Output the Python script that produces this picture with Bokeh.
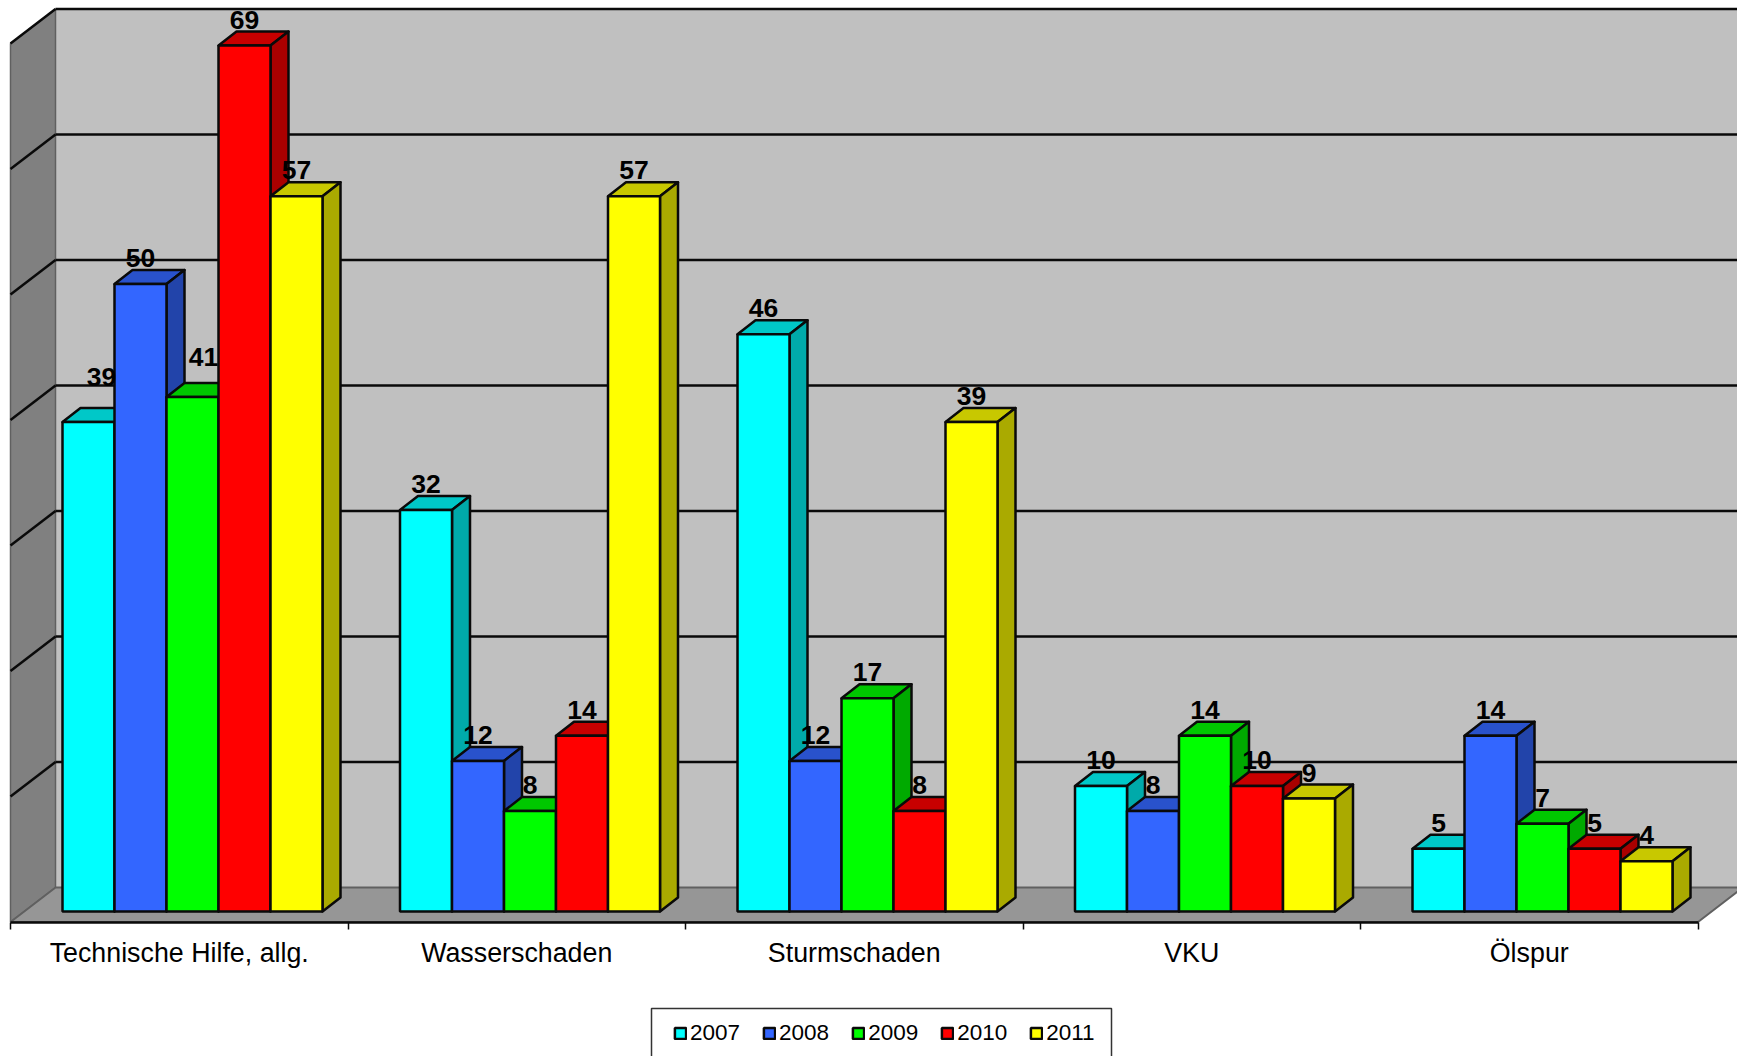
from bokeh.core.properties import value
from bokeh.embed import file_html
from bokeh.models import ColumnDataSource, FixedTicker, Legend, LegendItem, LinearAxis, Range1d
from bokeh.plotting import figure
from bokeh.resources import INLINE

categories = ["Technische Hilfe, allg.", "Wasserschaden", "Sturmschaden", "VKU", "Ölspur"]
years = ["2007", "2008", "2009", "2010", "2011"]
v2007 = [39, 32, 46, 10, 5]
v2008 = [50, 12, 12, 8, 14]
v2009 = [41, 8, 17, 14, 7]
v2010 = [69, 14, 8, 10, 5]
v2011 = [57, 57, 39, 9, 4]
series = [v2007, v2008, v2009, v2010, v2011]
front_colors = ["#00FFFF", "#3366FF", "#00FF00", "#FF0000", "#FFFF00"]
top_colors = ["#00C8C8", "#2952CC", "#00C800", "#C80000", "#C8C800"]
side_colors = ["#00AAAA", "#2244AA", "#00AA00", "#AA0000", "#AAAA00"]
grid_values = [0, 10, 20, 30, 40, 50, 60, 70]

# layout: page pixels per data unit
PX_X = 337.5
PX_Y = 12.55
X0_PX = 10.0      # x pixel of category coordinate 0
Y0_PX = 911.0     # y pixel of value 0 at the bar fronts
W, H = 1737, 1056
LINE = "#0a0a0a"


def px_x(d):
    return d / PX_X


def px_y(d):
    return d / PX_Y


p = figure(width=W, height=H, output_backend="svg", toolbar_location=None,
           x_axis_location=None, y_axis_location=None, min_border=0,
           x_range=Range1d(px_x(-X0_PX), px_x(W - X0_PX)),
           y_range=Range1d(px_y(Y0_PX - H), px_y(Y0_PX)))
p.outline_line_color = None
p.grid.visible = False
p.background_fill_color = "white"
p.border_fill_color = "white"

# box geometry
floor_front = px_y(Y0_PX - 921.5)
wall_dx = px_x(45)
wall_dy = px_y(34.5)
back0 = floor_front + wall_dy
x_end = len(categories)
top = back0 + grid_values[-1]
EDGE = "#606060"

# walls and floor
p.patch([wall_dx, x_end + wall_dx, x_end + wall_dx, wall_dx], [back0, back0, top, top],
        fill_color="#C0C0C0", line_color=None)
p.patch([0, wall_dx, wall_dx, 0], [floor_front, back0, top, floor_front + grid_values[-1]],
        fill_color="#808080", line_color=EDGE, line_width=1.5)
p.patch([0, wall_dx, x_end + wall_dx, x_end], [floor_front, back0, back0, floor_front],
        fill_color="#969696", line_color=EDGE, line_width=2)

# gridlines along back and left wall
gv = [g for g in grid_values if g > 0]
p.segment([wall_dx] * len(gv), [back0 + g for g in gv], [x_end + wall_dx] * len(gv),
          [back0 + g for g in gv], line_color=LINE, line_width=2.5)
p.segment([0] * len(gv), [floor_front + g for g in gv], [wall_dx] * len(gv),
          [back0 + g for g in gv], line_color=LINE, line_width=2.5)

# bars
bar_w = px_x(52)
group_off = px_x(52)
bar_dx = px_x(18)
bar_dy = px_y(14)
legend_items = []
label_x, label_y, label_t = [], [], []
# hand-placed labels of the source chart: (series, category) -> pixel nudge
nudges = {(0, 0): (13, -19), (2, 0): (11, -14)}
for s, vals in enumerate(series):
    lefts = [c + group_off + s * bar_w for c in range(len(vals))]
    rights = [l + bar_w for l in lefts]
    p.patches([[l, r, r + bar_dx, l + bar_dx] for l, r in zip(lefts, rights)],
              [[v, v, v + bar_dy, v + bar_dy] for v in vals],
              fill_color=top_colors[s], line_color=LINE, line_width=2.5, line_join="round")
    p.patches([[r, r + bar_dx, r + bar_dx, r] for r in rights],
              [[0, bar_dy, v + bar_dy, v] for v in vals],
              fill_color=side_colors[s], line_color=LINE, line_width=2.5, line_join="round")
    r_front = p.quad(left=lefts, right=rights, bottom=[0] * len(vals), top=vals,
                     fill_color=front_colors[s], line_color=LINE, line_width=2.5)
    legend_items.append(LegendItem(label=years[s], renderers=[r_front]))
    for c, (l, v) in enumerate(zip(lefts, vals)):
        nx, ny = nudges.get((s, c), (0, 0))
        label_x.append(l + bar_w / 2 + px_x(nx))
        label_y.append(v - px_y(ny))
        label_t.append(str(v))

p.text(x="x", y="y", text="t", source=ColumnDataSource(dict(x=label_x, y=label_y, t=label_t)),
       text_font=value("Liberation Sans"), text_font_style="bold", text_font_size="26.5px",
       text_color="#000000", text_align="center", text_baseline="middle", y_offset=-26)

# axis with tick marks at category boundaries
tick_axis = LinearAxis(ticker=FixedTicker(ticks=list(range(len(categories) + 1))),
                       bounds=(0, len(categories)),
                       fixed_location=floor_front, axis_line_color=LINE, axis_line_width=2.5,
                       major_tick_line_color=LINE, major_tick_line_width=1.5,
                       major_tick_in=0, major_tick_out=7, minor_tick_line_color=None,
                       major_label_text_color=None, major_label_text_font_size="1px")
p.add_layout(tick_axis, "below")

# axis carrying the category labels centred between the ticks
centres = [c + 0.5 for c in range(len(categories))]
label_axis = LinearAxis(ticker=FixedTicker(ticks=centres),
                        major_label_overrides=dict(zip(centres, categories)),
                        fixed_location=floor_front, axis_line_color=None,
                        major_tick_line_color=None, minor_tick_line_color=None,
                        major_tick_in=0, major_tick_out=0, major_label_standoff=16,
                        major_label_text_font="Liberation Sans",
                        major_label_text_font_size="26.8px", major_label_text_color="#000000")
p.add_layout(label_axis, "below")

# legend frame, runs past the page bottom as in the source
p.quad(left=[px_x(651 - X0_PX)], right=[px_x(1111 - X0_PX)],
       top=[px_y(Y0_PX - 1008)], bottom=[px_y(Y0_PX - 1070)],
       fill_color="white", line_color="#333333", line_width=1.5)

legend = Legend(items=legend_items, orientation="horizontal", location=(673, 10),
                background_fill_alpha=0, border_line_color=None, padding=0, margin=0,
                spacing=22, label_standoff=3, glyph_width=14, glyph_height=14,
                label_text_font="Liberation Sans", label_text_font_size="22.5px",
                label_text_color="#000000", click_policy="none")
p.add_layout(legend, "center")

open("out.html", "w").write(file_html(p, INLINE))
